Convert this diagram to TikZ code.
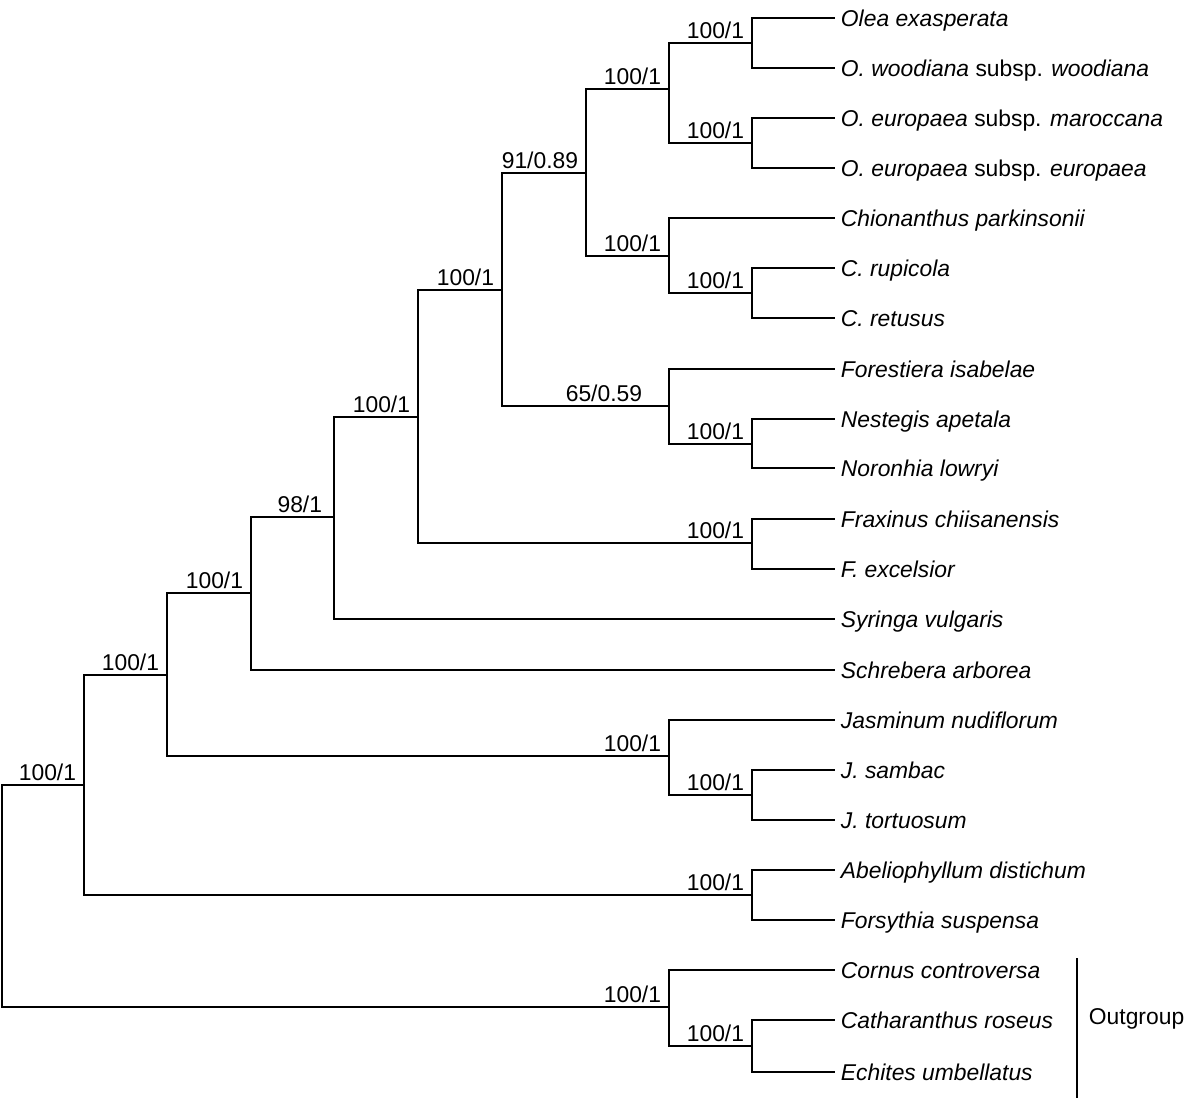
\documentclass[tikz,border=0pt]{standalone}
\usepackage{fontspec}
\setmainfont{Liberation Sans}
\begin{document}
\begin{tikzpicture}[x=0.02cm, y=-0.02cm, line width=1.1pt,
        taxon/.style={anchor=west, inner xsep=0.1cm, inner ysep=0pt, text height=9.3pt, text depth=0pt, font=\fontsize{13}{15}\selectfont\itshape},
        support/.style={anchor=base east, inner sep=0pt, xshift=-0.14cm, yshift=0.1cm, font=\fontsize{13}{15}\selectfont}]
        \useasboundingbox (0,0) rectangle (1200,1112);

        % taxa
        \node[taxon] (oexa) at (835,18) {Olea exasperata};
        \node[taxon] (owoo) at (835,68) {O. woodiana \textup{subsp.} woodiana};
        \node[taxon] (omar) at (835,118) {O. europaea \textup{subsp.} maroccana};
        \node[taxon] (oeur) at (835,168) {O. europaea \textup{subsp.} europaea};
        \node[taxon] (cpar) at (835,218) {Chionanthus parkinsonii};
        \node[taxon] (crup) at (835,268) {C. rupicola};
        \node[taxon] (cret) at (835,318) {C. retusus};
        \node[taxon] (fisa) at (835,369) {Forestiera isabelae};
        \node[taxon] (nape) at (835,419) {Nestegis apetala};
        \node[taxon] (nlow) at (835,468) {Noronhia lowryi};
        \node[taxon] (fchi) at (835,519) {Fraxinus chiisanensis};
        \node[taxon] (fexc) at (835,569) {F. excelsior};
        \node[taxon] (svul) at (835,619) {Syringa vulgaris};
        \node[taxon] (sarb) at (835,670) {Schrebera arborea};
        \node[taxon] (jnud) at (835,720) {Jasminum nudiflorum};
        \node[taxon] (jsam) at (835,770) {J. sambac};
        \node[taxon] (jtor) at (835,820) {J. tortuosum};
        \node[taxon] (adis) at (835,870) {Abeliophyllum distichum};
        \node[taxon] (fsus) at (835,920) {Forsythia suspensa};
        \node[taxon] (ccon) at (835,970) {Cornus controversa};
        \node[taxon] (cros) at (835,1020) {Catharanthus roseus};
        \node[taxon] (eumb) at (835,1072) {Echites umbellatus};

        % internal nodes
        \coordinate (olwo) at (752,43);
        \coordinate (oleu) at (752,143);
        \coordinate (olea) at (669,89);
        \coordinate (chru) at (752,293);
        \coordinate (chio) at (669,256);
        \coordinate (olch) at (586,173);
        \coordinate (neno) at (752,444);
        \coordinate (fore) at (669,406);
        \coordinate (olei) at (502,290);
        \coordinate (frax) at (752,543);
        \coordinate (olfr) at (418,417);
        \coordinate (sysp) at (334,517);
        \coordinate (scsp) at (251,593);
        \coordinate (jasa) at (752,795);
        \coordinate (jasm) at (669,756);
        \coordinate (olac) at (167,675);
        \coordinate (forsy) at (752,895);
        \coordinate (ingr) at (84,785);
        \coordinate (apoc) at (752,1046);
        \coordinate (outg) at (669,1007);
        \coordinate (root) at (2,896);

        % branches
        \draw (olwo) |- (oexa.west);
        \draw (olwo) |- (owoo.west);
        \draw (oleu) |- (omar.west);
        \draw (oleu) |- (oeur.west);
        \draw (olea) |- (olwo);
        \draw (olea) |- (oleu);
        \draw (chru) |- (crup.west);
        \draw (chru) |- (cret.west);
        \draw (chio) |- (cpar.west);
        \draw (chio) |- (chru);
        \draw (olch) |- (olea);
        \draw (olch) |- (chio);
        \draw (neno) |- (nape.west);
        \draw (neno) |- (nlow.west);
        \draw (fore) |- (fisa.west);
        \draw (fore) |- (neno);
        \draw (olei) |- (olch);
        \draw (olei) |- (fore);
        \draw (frax) |- (fchi.west);
        \draw (frax) |- (fexc.west);
        \draw (olfr) |- (olei);
        \draw (olfr) |- (frax);
        \draw (sysp) |- (olfr);
        \draw (sysp) |- (svul.west);
        \draw (scsp) |- (sysp);
        \draw (scsp) |- (sarb.west);
        \draw (jasa) |- (jsam.west);
        \draw (jasa) |- (jtor.west);
        \draw (jasm) |- (jnud.west);
        \draw (jasm) |- (jasa);
        \draw (olac) |- (scsp);
        \draw (olac) |- (jasm);
        \draw (forsy) |- (adis.west);
        \draw (forsy) |- (fsus.west);
        \draw (ingr) |- (olac);
        \draw (ingr) |- (forsy);
        \draw (apoc) |- (cros.west);
        \draw (apoc) |- (eumb.west);
        \draw (outg) |- (ccon.west);
        \draw (outg) |- (apoc);
        \draw (root) |- (ingr);
        \draw (root) |- (outg);

        % support values
        \node[support] (s1) at (olwo) {100/1};
        \node[support] (s2) at (oleu) {100/1};
        \node[support] (s3) at (olea) {100/1};
        \node[support] (s4) at (chru) {100/1};
        \node[support] (s5) at (chio) {100/1};
        \node[support] (s6) at (olch) {91/0.89};
        \node[support] (s7) at (neno) {100/1};
        \node[support, xshift=-0.38cm] (s8) at (fore) {65/0.59};
        \node[support] (s9) at (olei) {100/1};
        \node[support] (s10) at (frax) {100/1};
        \node[support] (s11) at (olfr) {100/1};
        \node[support, xshift=-0.08cm] (s12) at (sysp) {98/1};
        \node[support] (s13) at (scsp) {100/1};
        \node[support] (s14) at (jasa) {100/1};
        \node[support] (s15) at (jasm) {100/1};
        \node[support] (s16) at (olac) {100/1};
        \node[support] (s17) at (forsy) {100/1};
        \node[support] (s18) at (ingr) {100/1};
        \node[support] (s19) at (apoc) {100/1};
        \node[support] (s20) at (outg) {100/1};

        % outgroup bracket
        \coordinate (ogtop) at (1077,958);
        \coordinate (ogbot) at (1077,1098);
        \draw[line width=0.8pt] (ogtop) -- (ogbot);
        \node[anchor=west, inner sep=0pt, text height=9.3pt, text depth=0pt, font=\fontsize{13}{15}\selectfont] (ogl) at (1088,1016) {Outgroup};
    \end{tikzpicture}
\end{document}
